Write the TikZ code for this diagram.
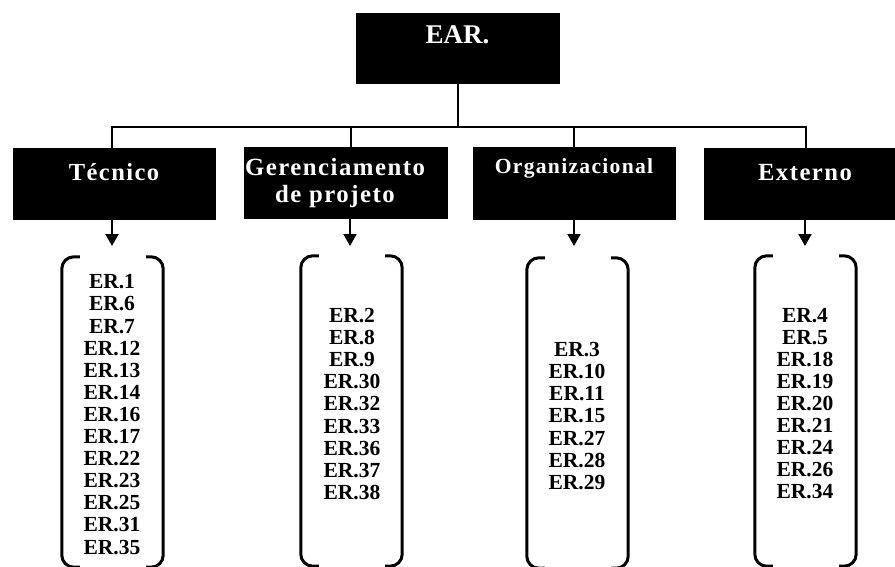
\documentclass[tikz,border=0pt]{standalone}
\usepackage{fontspec}
\setmainfont{Liberation Serif}
\newfontfamily\catfont{Liberation Serif}[LetterSpace=6]
\usetikzlibrary{arrows.meta,calc}

\begin{document}
\begin{tikzpicture}[x=1pt,y=-1pt,
  blackbox/.style={draw=black, fill=black, inner sep=0pt, anchor=north west},
  rootlabel/.style={text=white, font=\bfseries\fontsize{27}{30}\selectfont, inner sep=0pt},
  catlabel/.style={text=white, font=\catfont\bfseries\fontsize{#1}{27}\selectfont, align=center, inner sep=0pt},
  link/.style={line width=2pt},
  arrowlink/.style={line width=2pt, -{Triangle[length=12pt,width=13pt]}},
  frame/.style={inner sep=0pt, minimum width=101pt, minimum height=310pt},
  bracket/.style={line width=3pt, rounded corners=12pt},
  erlist/.style={font=\bfseries\fontsize{21.5}{22.1}\selectfont, align=center, inner sep=0pt}]

  \useasboundingbox (0,0) rectangle (895,567);

  % top node
  \node[blackbox, minimum width=203pt, minimum height=70pt] (ear) at (356,13) {};
  \node[rootlabel] (earlabel) at (457.5,35) {EAR.};

  % category boxes
  \node[blackbox, minimum width=202pt, minimum height=71pt] (tec) at (13,148) {};
  \node[blackbox, minimum width=203pt, minimum height=71pt] (ger) at (244,147) {};
  \node[blackbox, minimum width=202pt, minimum height=72pt] (org) at (473,147) {};
  \node[blackbox, minimum width=191pt, minimum height=71pt] (ext) at (704,148) {};

  \node[catlabel=24.5] (teclabel) at (114,172) {Técnico};
  \node[catlabel=24.8] (gerlabel) at (335,183.5) {Gerenciamento\\de projeto};
  \node[catlabel=21.6] (orglabel) at (574,168) {Organizacional};
  \node[catlabel=24.7] (extlabel) at (805,173) {Externo};

  % bus points and arrow ends
  \coordinate (bus) at (457.5,127);
  \coordinate (c1) at (112,127);
  \coordinate (c2) at (351,127);
  \coordinate (c3) at (574,127);
  \coordinate (c4) at (806,127);
  \coordinate (a1) at (112,246);
  \coordinate (a2) at (350,246);
  \coordinate (a3) at (574,246);
  \coordinate (a4) at (805,246);

  % tree connectors
  \draw[link] (ear.south -| bus) -- (bus);
  \draw[link] (c1 |- tec.north) -- (c1) -- (c4) -- (c4 |- ext.north);
  \draw[link] (c2) -- (c2 |- ger.north);
  \draw[link] (c3) -- (c3 |- org.north);

  \draw[arrowlink] (a1 |- tec.south) -- (a1);
  \draw[arrowlink] (a2 |- ger.south) -- (a2);
  \draw[arrowlink] (a3 |- org.south) -- (a3);
  \draw[arrowlink] (a4 |- ext.south) -- (a4);

  % bracket frames
  \node[frame] (ftec) at (112.5,412) {};
  \node[frame] (fger) at (351.5,411) {};
  \node[frame] (forg) at (577.5,413) {};
  \node[frame] (fext) at (805.5,411) {};

  \foreach \f in {ftec,fger,forg,fext}{
    \draw[bracket] ($(\f.north west)+(18,0)$) -- (\f.north west) -- (\f.south west) -- ($(\f.south west)+(18,0)$);
    \draw[bracket] ($(\f.north east)+(-17,0)$) -- (\f.north east) -- (\f.south east) -- ($(\f.south east)+(-17,0)$);
  }

  % risk lists
  \node[erlist] (ltec) at (112,414.5) {ER.1\\ER.6\\ER.7\\ER.12\\ER.13\\ER.14\\ER.16\\ER.17\\ER.22\\ER.23\\ER.25\\ER.31\\ER.35};
  \node[erlist] (lger) at (352,404) {ER.2\\ER.8\\ER.9\\ER.30\\ER.32\\ER.33\\ER.36\\ER.37\\ER.38};
  \node[erlist] (lorg) at (577,416) {ER.3\\ER.10\\ER.11\\ER.15\\ER.27\\ER.28\\ER.29};
  \node[erlist] (lext) at (805,403.5) {ER.4\\ER.5\\ER.18\\ER.19\\ER.20\\ER.21\\ER.24\\ER.26\\ER.34};
\end{tikzpicture}
\end{document}
